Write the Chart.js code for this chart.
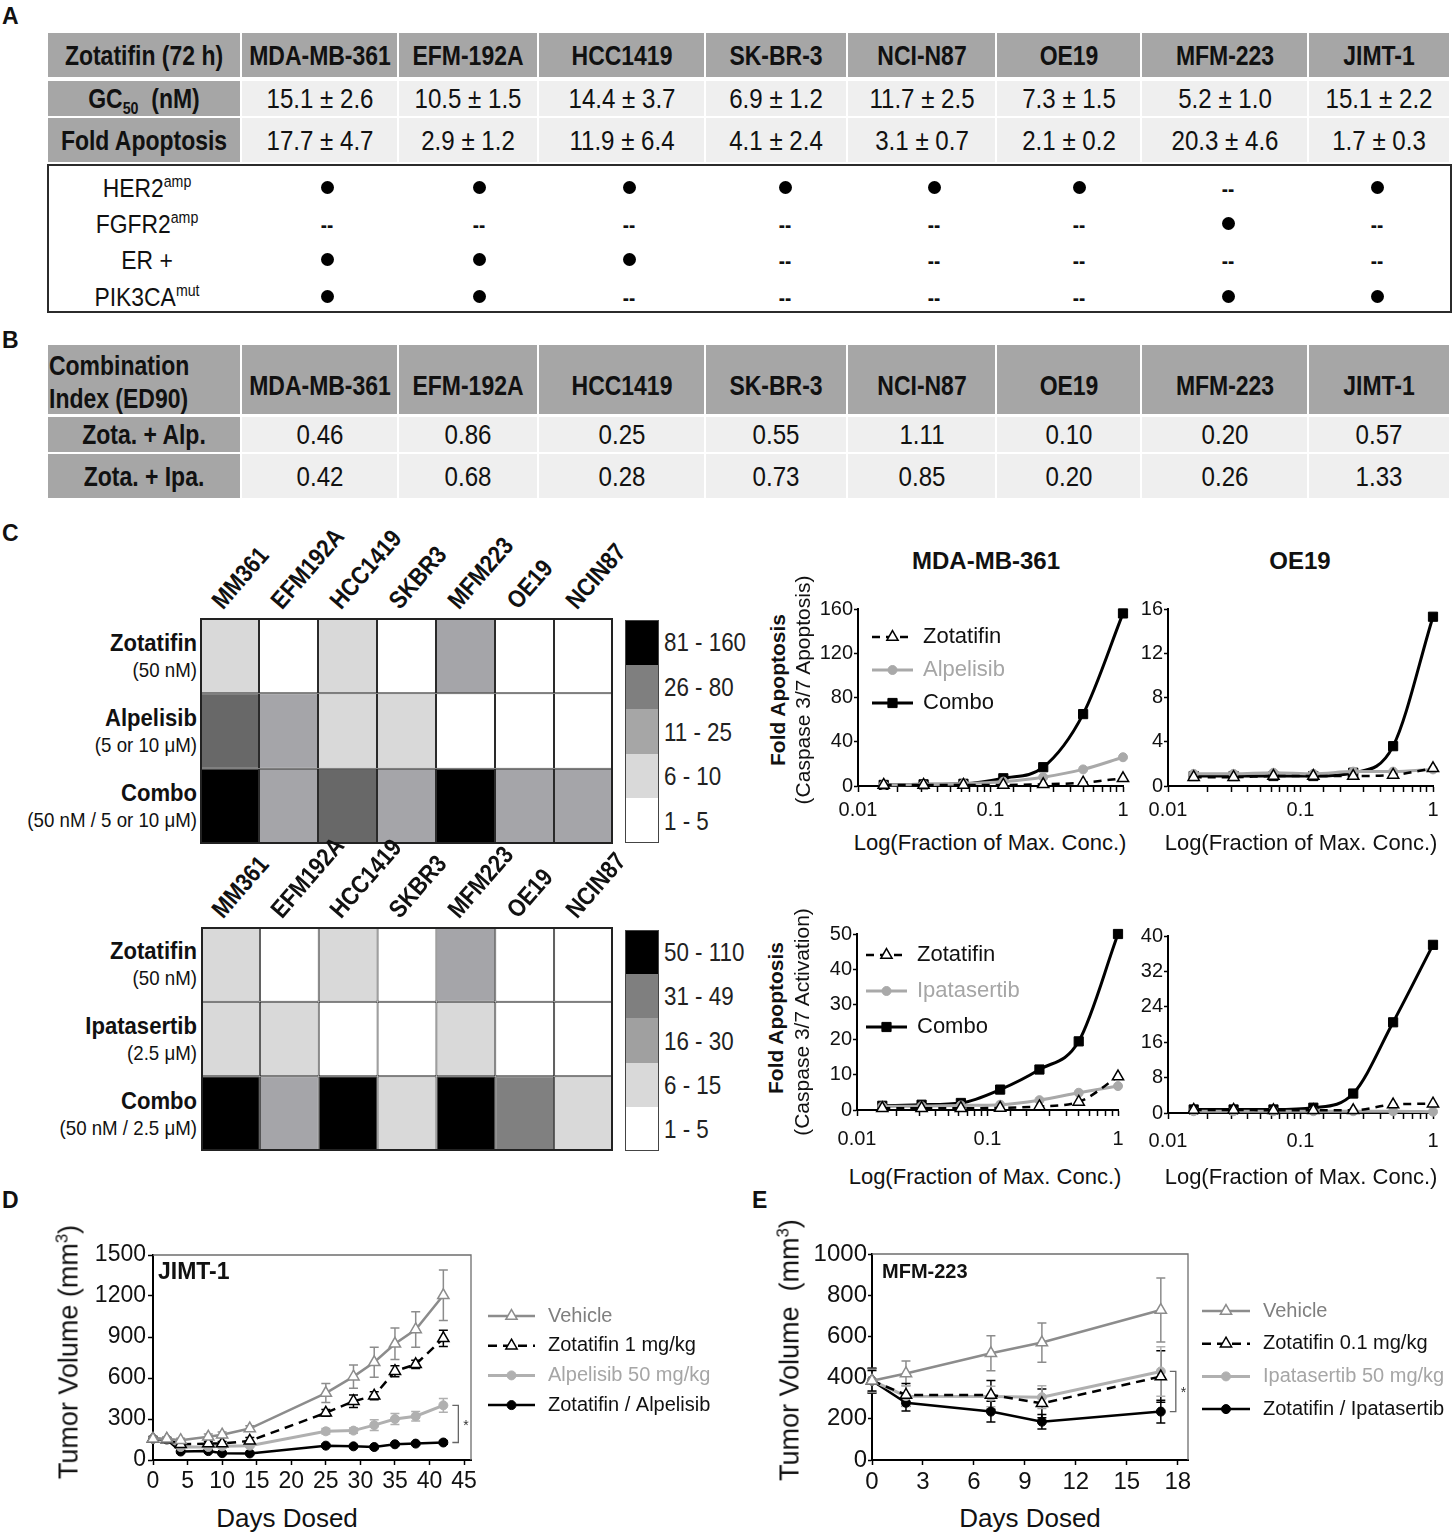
<!DOCTYPE html>
<html>
<head>
<meta charset="utf-8">
<title>Zotatifin combination figure</title>
<script src="https://cdn.jsdelivr.net/npm/chart.js@4.4.1/dist/chart.umd.min.js"></script>
<style>
html,body{margin:0;padding:0;background:#fff;}
#root{position:relative;width:1453px;height:1533px;overflow:hidden;background:#fff;font-family:"Liberation Sans",Arial,Helvetica,sans-serif;color:#111;}
.t{position:absolute;white-space:nowrap;line-height:1;}
.t sup{font-size:0.62em;vertical-align:baseline;position:relative;top:-0.62em;}
.t sub{font-size:0.62em;vertical-align:baseline;position:relative;top:0.32em;}
.c{position:absolute;box-sizing:border-box;}
canvas{position:absolute;}
</style>
</head>
<body>
<div id="root"></div>
<script>
// ================= DATA =================
// Panel A
const cellLines = ['MDA-MB-361','EFM-192A','HCC1419','SK-BR-3','NCI-N87','OE19','MFM-223','JIMT-1'];
const gc50Mean = [15.1,10.5,14.4,6.9,11.7,7.3,5.2,15.1];
const gc50Sd   = [2.6,1.5,3.7,1.2,2.5,1.5,1.0,2.2];
const foldMean = [17.7,2.9,11.9,4.1,3.1,2.1,20.3,1.7];
const foldSd   = [4.7,1.2,6.4,2.4,0.7,0.2,4.6,0.3];
const her2amp    = [1,1,1,1,1,1,0,1];
const fgfr2amp   = [0,0,0,0,0,0,1,0];
const erPositive = [1,1,1,0,0,0,0,0];
const pik3caMut  = [1,1,0,0,0,0,1,1];
// Panel B
const ciZotaAlp = [0.46,0.86,0.25,0.55,1.11,0.10,0.20,0.57];
const ciZotaIpa = [0.42,0.68,0.28,0.73,0.85,0.20,0.26,1.33];
// Panel C heatmaps (bin index per cell)
const heatLines = ['MM361','EFM192A','HCC1419','SKBR3','MFM223','OE19','NCIN87'];
const alpBins = ['1 - 5','6 - 10','11 - 25','26 - 80','81 - 160'];
const alpHeatZota  = [1,0,1,0,2,0,0];
const alpHeatAlp   = [3,2,1,1,0,0,0];
const alpHeatCombo = [4,2,3,2,4,2,2];
const ipaBins = ['1 - 5','6 - 15','16 - 30','31 - 49','50 - 110'];
const ipaHeatZota  = [1,0,1,0,2,0,0];
const ipaHeatIpa   = [1,1,0,0,1,0,0];
const ipaHeatCombo = [4,2,4,1,4,3,1];
// Panel C dose response
const doseFrac = [0.015625,0.03125,0.0625,0.125,0.25,0.5,1];
const mm361AlpZota  = [1,1,1,1,1.5,3,7];
const mm361Alp      = [1,1.3,2,4,8,15,26];
const mm361AlpCombo = [1,1.5,2,7,17,65,156];
const oe19AlpZota   = [0.8,0.8,0.9,0.9,0.9,1.0,1.6];
const oe19Alp       = [1.1,1.1,1.2,1.1,1.3,1.3,1.5];
const oe19AlpCombo  = [0.9,0.9,0.9,0.9,1.2,3.6,15.3];
const mm361IpaZota  = [0.5,0.5,0.5,0.6,1.0,2.3,9.5];
const mm361Ipa      = [1.0,1.1,1.3,1.5,2.8,4.9,6.8];
const mm361IpaCombo = [1.2,1.5,2.0,5.8,11.5,19.5,50];
const oe19IpaZota   = [0.7,0.7,0.6,0.6,0.6,1.9,2.1];
const oe19Ipa       = [0.4,0.4,0.4,0.4,0.4,0.4,0.3];
const oe19IpaCombo  = [0.8,0.8,0.8,1.2,4.4,20.5,38];
// Panel D (JIMT-1)
const jimtDays = [0,2,4,8,10,14,25,29,32,35,38,42];
const jimtVehicle    = [155,155,145,170,185,230,490,610,715,850,955,1205];
const jimtVehicleErr = [20,15,15,20,20,20,70,85,110,115,130,185];
const jimtZota       = [155,150,115,120,120,140,345,430,470,650,700,890];
const jimtZotaErr    = [15,10,15,15,15,25,25,45,30,40,30,60];
const jimtAlp        = [155,150,95,95,100,105,210,215,255,300,320,400];
const jimtAlpErr     = [15,10,10,10,10,10,20,20,40,40,35,50];
const jimtCombo      = [155,150,62,65,50,48,105,100,95,115,120,128];
const jimtComboErr   = [10,10,10,10,8,8,10,10,10,10,10,12];
const jimtDayTicks   = [0,5,10,15,20,25,30,35,40,45];
// Panel E (MFM-223)
const mfmDays = [0,2,7,10,17];
const mfmVehicle    = [385,420,518,570,728];
const mfmVehicleErr = [60,60,85,95,155];
const mfmZota       = [385,316,316,275,405];
const mfmZotaErr    = [60,55,70,70,125];
const mfmIpa        = [385,310,308,305,430];
const mfmIpaErr     = [55,50,50,55,120];
const mfmCombo      = [385,278,235,186,235];
const mfmComboErr   = [50,40,50,35,55];
const mfmDayTicks   = [0,3,6,9,12,15,18];

// ================= HELPERS =================
const root = document.getElementById('root');
const FONT = '"Liberation Sans", Arial, sans-serif';
function txt(html, x, y, o = {}) {
  const d = document.createElement('div');
  d.className = 't';
  d.innerHTML = html;
  const size = o.size || 20, sx = o.sx || 1, align = o.align || 'center';
  d.style.fontSize = size + 'px';
  d.style.fontWeight = o.weight || 'normal';
  d.style.color = o.color || '#111';
  d.style.left = x + 'px';
  d.style.top = y + 'px';
  const tx = align === 'center' ? '-50%' : align === 'right' ? '-100%' : '0';
  const ox = align === 'center' ? '50%' : align === 'right' ? '100%' : '0';
  d.style.transformOrigin = ox + ' 50%';
  d.style.transform = `translate(${tx},-50%) ${o.rot ? `rotate(${o.rot}deg)` : ''} scaleX(${sx})`;
  root.appendChild(d);
  return d;
}
function rect(x, y, w, h, bg, extra) {
  const d = document.createElement('div');
  d.className = 'c';
  Object.assign(d.style, {left: x + 'px', top: y + 'px', width: w + 'px', height: h + 'px', background: bg});
  if (extra) Object.assign(d.style, extra);
  root.appendChild(d);
  return d;
}
function rotLabel(text, x, y, size, rot, sx) {
  const d = document.createElement('div');
  d.className = 't';
  d.textContent = text;
  Object.assign(d.style, {left: x + 'px', top: (y - size) + 'px', fontSize: size + 'px', fontWeight: 'bold', height: size + 'px',
    transformOrigin: '0 100%', transform: `rotate(${rot}deg) scaleX(${sx})`});
  root.appendChild(d);
}
function mkCanvas(x, y, w, h) {
  const c = document.createElement('canvas');
  c.width = w; c.height = h;
  Object.assign(c.style, {left: x + 'px', top: y + 'px', width: w + 'px', height: h + 'px'});
  root.appendChild(c);
  return c;
}

// ================= PANEL LETTERS =================
[['A',2,16],['B',2,340],['C',2,533],['D',2,1200],['E',752,1200]].forEach(([l,x,y]) =>
  txt(l, x, y, {size: 23, weight: 'bold', align: 'left'}));

// ================= TABLE A =================
const colX = [48,242,399,539,706,848,997,1142,1309,1451];
const GRAY = '#a6a6a6', PALE = '#efefef';
const HB = {size: 28, weight: 'bold', sx: 0.82};
const VAL = {size: 28, sx: 0.86};
function rowCells(y, h, htmls, textY, firstStyle, restStyle, firstBg, restBg) {
  for (let i = 0; i < htmls.length; i++) {
    const x0 = colX[i], x1 = colX[i + 1] - 2;
    rect(x0, y, x1 - x0, h, i === 0 ? firstBg : restBg);
    if (htmls[i] != null) txt(htmls[i], (x0 + x1) / 2, textY, i === 0 ? firstStyle : restStyle);
  }
}
const pm = (m, s, d) => `${m.toFixed(d)} ± ${s.toFixed(d)}`;
rowCells(33, 44, ['Zotatifin (72 h)', ...cellLines], 56, HB, HB, GRAY, GRAY);
rowCells(81, 35, ['GC<sub>50</sub>&nbsp; (nM)', ...gc50Mean.map((m, i) => pm(m, gc50Sd[i], 1))], 99, HB, VAL, GRAY, PALE);
rowCells(118, 44, ['Fold Apoptosis', ...foldMean.map((m, i) => pm(m, foldSd[i], 1))], 141, HB, VAL, GRAY, PALE);
rect(47, 164, 1405, 149, 'transparent', {border: '2px solid #2b2b2b'});
const featureRows = [
  {html: 'HER2<sup>amp</sup>', v: her2amp},
  {html: 'FGFR2<sup>amp</sup>', v: fgfr2amp},
  {html: 'ER +', v: erPositive},
  {html: 'PIK3CA<sup>mut</sup>', v: pik3caMut}
];
const featY = [188,224,260,297];
const dotX = [327,479,629,785,934,1079,1228,1377];
featureRows.forEach((f, r) => {
  txt(f.html, 147, featY[r], {size: 26, sx: 0.88});
  f.v.forEach((on, i) => {
    if (on) rect(dotX[i] - 6.5, featY[r] - 7, 13, 13, '#000', {borderRadius: '50%'});
    else txt('--', dotX[i], featY[r] + 1, {size: 22, weight: 'bold', sx: 0.85});
  });
});

// ================= TABLE B =================
for (let i = 0; i < 9; i++) rect(colX[i], 345, colX[i + 1] - 2 - colX[i], 69, GRAY);
txt('Combination', 49, 366, {...HB, align: 'left'});
txt('Index (ED90)', 49, 399, {...HB, align: 'left'});
cellLines.forEach((c, i) => txt(c, (colX[i + 1] + colX[i + 2] - 2) / 2, 386, HB));
rowCells(417, 35, ['Zota. + Alp.', ...ciZotaAlp.map(v => v.toFixed(2))], 435, HB, VAL, GRAY, PALE);
rowCells(454, 44, ['Zota. + Ipa.', ...ciZotaIpa.map(v => v.toFixed(2))], 477, HB, VAL, GRAY, PALE);

// ================= HEATMAPS =================
const outlinePlugin = {
  id: 'outline',
  afterDraw(chart) {
    const {left, right, top, bottom} = chart.chartArea, ctx = chart.ctx;
    ctx.save(); ctx.strokeStyle = '#222'; ctx.lineWidth = 2;
    ctx.strokeRect(left + 1, top + 1, right - left - 2, bottom - top - 2);
    ctx.restore();
  }
};
function heatmap(r, labels, rows, colors) {
  const c = mkCanvas(r.x, r.y, r.w, r.h);
  const n = rows.length;
  new Chart(c, {
    type: 'bar',
    data: {
      labels,
      datasets: rows.map((bins, ri) => ({
        data: bins.map(() => [n - 1 - ri, n - ri]),
        backgroundColor: bins.map(b => colors[b]),
        borderColor: '#2a2a2a', borderWidth: 1, borderSkipped: false,
        barPercentage: 1, categoryPercentage: 1, grouped: false, inflateAmount: 0
      }))
    },
    options: {
      responsive: false, animation: false, devicePixelRatio: 1, events: [],
      layout: {padding: 0},
      plugins: {legend: {display: false}, tooltip: {enabled: false}},
      scales: {x: {display: false}, y: {display: false, min: 0, max: n}}
    },
    plugins: [outlinePlugin]
  });
}
function heatLegend(x, y, w, h, bins, colors) {
  const seg = h / bins.length;
  for (let k = 0; k < bins.length; k++) {
    const b = bins.length - 1 - k;
    rect(x, y + k * seg, w, seg + 0.5, colors[b]);
    txt(bins[b], x + w + 5, y + (k + 0.5) * seg, {size: 26, sx: 0.86, align: 'left', color: '#222'});
  }
  rect(x, y, w, h, 'transparent', {border: '1.5px solid #444'});
}
function heatRowLabels(top, rowH, names, subs) {
  names.forEach((nm, i) => {
    const cy = top + (i + 0.5) * rowH;
    txt(nm, 197, cy - 13, {size: 24, weight: 'bold', sx: 0.92, align: 'right'});
    txt(subs[i], 197, cy + 13, {size: 21, sx: 0.89, align: 'right'});
  });
}
function heatColLabels(left, width, top, labels) {
  const cw = width / labels.length;
  labels.forEach((l, i) => rotLabel(l, left + (i + 0.5) * cw - 4, top - 5, 25, -49, 0.86));
}
const heatColors1 = ['#ffffff','#d9d9d9','#a5a5a9','#686868','#000000'];
const legColors1  = ['#ffffff','#d9d9d9','#a6a6a6','#7f7f7f','#000000'];
const heatColors2 = ['#ffffff','#d9d9d9','#a5a5a9','#808080','#000000'];
const legColors2  = ['#ffffff','#d9d9d9','#a0a0a0','#7f7f7f','#000000'];

heatmap({x: 200, y: 618, w: 413, h: 226}, heatLines, [alpHeatZota, alpHeatAlp, alpHeatCombo], heatColors1);
heatColLabels(200, 413, 618, heatLines);
heatRowLabels(618, 75, ['Zotatifin','Alpelisib','Combo'], ['(50 nM)','(5 or 10 μM)','(50 nM / 5 or 10 μM)']);
heatLegend(625, 620, 34, 223, alpBins, legColors1);

heatmap({x: 201, y: 927, w: 412, h: 224}, heatLines, [ipaHeatZota, ipaHeatIpa, ipaHeatCombo], heatColors2);
heatColLabels(201, 412, 927, heatLines);
heatRowLabels(927, 74.7, ['Zotatifin','Ipatasertib','Combo'], ['(50 nM)','(2.5 μM)','(50 nM / 2.5 μM)']);
heatLegend(625, 930, 34, 221, ipaBins, legColors2);

// ================= LINE CHART PLUGINS =================
function drawMarker(ctx, style, r, x, y, fill, stroke, bw) {
  ctx.save(); ctx.setLineDash([]);
  ctx.fillStyle = fill; ctx.strokeStyle = stroke; ctx.lineWidth = bw || 1;
  ctx.beginPath();
  if (style === 'circle') ctx.arc(x, y, r, 0, Math.PI * 2);
  else if (style === 'rect') { const s = r * Math.SQRT1_2; ctx.rect(x - s, y - s, 2 * s, 2 * s); }
  else if (style === 'triangle') {
    let a = 0;
    ctx.moveTo(x + Math.sin(a) * r, y - Math.cos(a) * r); a += 2 * Math.PI / 3;
    ctx.lineTo(x + Math.sin(a) * r, y - Math.cos(a) * r); a += 2 * Math.PI / 3;
    ctx.lineTo(x + Math.sin(a) * r, y - Math.cos(a) * r); ctx.closePath();
  }
  ctx.fill(); ctx.stroke(); ctx.restore();
}
const legendPlugin = {
  id: 'lg',
  afterDraw(chart, args, o) {
    if (!o || o.x === undefined || o.hide) return;
    const ctx = chart.ctx;
    chart.data.datasets.forEach((ds, i) => {
      const y = o.y + i * o.dy;
      ctx.save();
      ctx.strokeStyle = ds.borderColor; ctx.lineWidth = ds.borderWidth;
      ctx.setLineDash(ds.borderDash || []);
      ctx.beginPath(); ctx.moveTo(o.x, y); ctx.lineTo(o.x + o.len, y); ctx.stroke();
      ctx.restore();
      drawMarker(ctx, ds.pointStyle, ds.pointRadius, o.x + o.len / 2, y, ds.pointBackgroundColor, ds.pointBorderColor, ds.pointBorderWidth);
      ctx.save();
      ctx.font = o.font; ctx.fillStyle = o.colors[i]; ctx.textBaseline = 'middle'; ctx.textAlign = 'left';
      ctx.fillText(ds.label, o.tx, y);
      ctx.restore();
    });
  }
};
const errPlugin = {
  id: 'eb',
  beforeDatasetsDraw(chart, args, o) {
    if (!o || !o.errors) return;
    const ctx = chart.ctx, xs = chart.scales.x, ys = chart.scales.y;
    chart.data.datasets.forEach((ds, i) => {
      const e = o.errors[i]; if (!e) return;
      ctx.save(); ctx.strokeStyle = ds.borderColor; ctx.lineWidth = 1.5; ctx.setLineDash([]);
      ds.data.forEach((p, j) => {
        const x = xs.getPixelForValue(p.x);
        const yt = ys.getPixelForValue(p.y + e[j]);
        const yb = ys.getPixelForValue(Math.max(0, p.y - e[j]));
        ctx.beginPath();
        ctx.moveTo(x, yt); ctx.lineTo(x, yb);
        ctx.moveTo(x - 4.5, yt); ctx.lineTo(x + 4.5, yt);
        ctx.moveTo(x - 4.5, yb); ctx.lineTo(x + 4.5, yb);
        ctx.stroke();
      });
      ctx.restore();
    });
  }
};
const framePlugin = {
  id: 'fr',
  afterDraw(chart, args, o) {
    if (!o || !o.on) return;
    const {left, right, top, bottom} = chart.chartArea, ctx = chart.ctx;
    ctx.save(); ctx.strokeStyle = '#6e6e6e'; ctx.lineWidth = 1.3;
    ctx.beginPath(); ctx.moveTo(left, top); ctx.lineTo(right, top); ctx.lineTo(right, bottom); ctx.stroke();
    ctx.restore();
    if (o.bracket) {
      const b = o.bracket, xs = chart.scales.x, ys = chart.scales.y;
      const x = xs.getPixelForValue(b.x) + b.dx;
      const y1 = ys.getPixelForValue(b.y1), y2 = ys.getPixelForValue(b.y2);
      ctx.save(); ctx.strokeStyle = '#666'; ctx.lineWidth = 1.3;
      ctx.beginPath(); ctx.moveTo(x - 6, y1); ctx.lineTo(x, y1); ctx.lineTo(x, y2); ctx.lineTo(x - 6, y2); ctx.stroke();
      ctx.fillStyle = '#333'; ctx.font = '14px ' + FONT; ctx.textAlign = 'left'; ctx.textBaseline = 'middle';
      ctx.fillText('*', x + 5, (y1 + y2) / 2 + 2);
      ctx.restore();
    }
  }
};

const ST = {
  zota:   {borderColor: '#000', borderWidth: 2.5, borderDash: [8, 6], pointStyle: 'triangle', pointRadius: 6.5, pointBackgroundColor: '#fff', pointBorderColor: '#000', pointBorderWidth: 1.5},
  drug:   {borderColor: '#a9a9a9', borderWidth: 3, borderDash: [], pointStyle: 'circle', pointRadius: 4.5, pointBackgroundColor: '#a9a9a9', pointBorderColor: '#a9a9a9', pointBorderWidth: 1},
  combo:  {borderColor: '#000', borderWidth: 3, borderDash: [], pointStyle: 'rect', pointRadius: 6.5, pointBackgroundColor: '#000', pointBorderColor: '#000', pointBorderWidth: 1},
  veh:    {borderColor: '#8c8c8c', borderWidth: 2.5, borderDash: [], pointStyle: 'triangle', pointRadius: 6.5, pointBackgroundColor: '#fff', pointBorderColor: '#8c8c8c', pointBorderWidth: 1.5},
  zotaV:  {borderColor: '#000', borderWidth: 2.5, borderDash: [9, 6], pointStyle: 'triangle', pointRadius: 6.5, pointBackgroundColor: '#fff', pointBorderColor: '#000', pointBorderWidth: 1.5},
  drugV:  {borderColor: '#b0b0b0', borderWidth: 3, borderDash: [], pointStyle: 'circle', pointRadius: 4.5, pointBackgroundColor: '#b0b0b0', pointBorderColor: '#b0b0b0', pointBorderWidth: 1},
  comboV: {borderColor: '#000', borderWidth: 2.5, borderDash: [], pointStyle: 'circle', pointRadius: 4.5, pointBackgroundColor: '#000', pointBorderColor: '#000', pointBorderWidth: 1}
};

function axisCommon(size, tickLen, pad) {
  return {
    border: {display: true, color: '#000', width: 2},
    grid: {display: true, drawOnChartArea: false, drawTicks: true, tickLength: tickLen, tickColor: '#000', tickWidth: 1.5},
    ticks: {color: '#111', font: {family: FONT, size}, padding: pad, autoSkip: false, maxRotation: 0}
  };
}
function lineChart(r, area, xScale, yScale, sets, extra) {
  const c = mkCanvas(r.x, r.y, r.w, r.h);
  const yW = area.l - r.x, xH = r.y + r.h - area.b;
  xScale.afterFit = s => { s.height = xH; };
  yScale.afterFit = s => { s.width = yW; };
  const lg = extra.legend || {hide: true};
  return new Chart(c, {
    type: 'line',
    data: {datasets: sets.map(s => Object.assign({label: s.label, data: s.xs.map((x, i) => ({x, y: s.ys[i]})), clip: false, fill: false,
      cubicInterpolationMode: extra.smooth ? 'monotone' : 'default', tension: 0}, s.style))},
    options: {
      responsive: false, animation: false, devicePixelRatio: 1, events: [],
      layout: {padding: {left: 0, top: area.t - r.y, right: r.x + r.w - area.r, bottom: 0}},
      plugins: {
        legend: {display: false}, tooltip: {enabled: false},
        lg: lg.hide ? {hide: true} : {x: lg.x - r.x, y: lg.y - r.y, dy: lg.dy, len: lg.len, tx: lg.tx - r.x, font: lg.font, colors: lg.colors},
        eb: {errors: extra.errors || null},
        fr: {on: !!extra.frame, bracket: extra.bracket || null}
      },
      scales: {x: xScale, y: yScale}
    },
    plugins: [errPlugin, legendPlugin, framePlugin]
  });
}

// ================= PANEL C: DOSE RESPONSE =================
function logX(pad) {
  const a = axisCommon(20, 6, pad);
  return Object.assign(a, {type: 'logarithmic', position: 'bottom', min: 0.01, max: 1,
    ticks: Object.assign(a.ticks, {callback: v => { const l = Math.log10(v); return Math.abs(l - Math.round(l)) < 1e-6 ? (v < 0.05 ? '0.01' : v < 0.5 ? '0.1' : '1') : ''; }})});
}
function linY(max, step, size, tl, pad) {
  const a = axisCommon(size, tl, pad);
  return Object.assign(a, {type: 'linear', position: 'left', min: 0, max,
    ticks: Object.assign(a.ticks, {stepSize: step, callback: v => String(v)})});
}
const legC = (x, y, dy, tx, c2) => ({x, y, dy, len: 41, tx, font: '22px ' + FONT, colors: ['#111', c2, '#111']});

lineChart({x: 800, y: 590, w: 340, h: 240}, {l: 858, t: 609, r: 1123, b: 786}, logX(6), linY(160, 40, 20, 4, 1), [
  {label: 'Zotatifin', xs: doseFrac, ys: mm361AlpZota, style: ST.zota},
  {label: 'Alpelisib', xs: doseFrac, ys: mm361Alp, style: ST.drug},
  {label: 'Combo', xs: doseFrac, ys: mm361AlpCombo, style: ST.combo}
], {smooth: true, legend: legC(872, 637, 33, 923, '#a6a6a6')});

lineChart({x: 1110, y: 590, w: 343, h: 240}, {l: 1168, t: 609, r: 1433, b: 786}, logX(6), linY(16, 4, 20, 4, 1), [
  {label: 'Zotatifin', xs: doseFrac, ys: oe19AlpZota, style: ST.zota},
  {label: 'Alpelisib', xs: doseFrac, ys: oe19Alp, style: ST.drug},
  {label: 'Combo', xs: doseFrac, ys: oe19AlpCombo, style: ST.combo}
], {smooth: true});

lineChart({x: 800, y: 915, w: 340, h: 240}, {l: 857, t: 934, r: 1118, b: 1110}, logX(11), linY(50, 10, 20, 4, 1), [
  {label: 'Zotatifin', xs: doseFrac, ys: mm361IpaZota, style: ST.zota},
  {label: 'Ipatasertib', xs: doseFrac, ys: mm361Ipa, style: ST.drug},
  {label: 'Combo', xs: doseFrac, ys: mm361IpaCombo, style: ST.combo}
], {smooth: true, legend: legC(866, 955, 36, 917, '#a6a6a6')});

lineChart({x: 1110, y: 915, w: 343, h: 240}, {l: 1168, t: 936, r: 1433, b: 1113}, logX(10), linY(40, 8, 20, 4, 1), [
  {label: 'Zotatifin', xs: doseFrac, ys: oe19IpaZota, style: ST.zota},
  {label: 'Ipatasertib', xs: doseFrac, ys: oe19Ipa, style: ST.drug},
  {label: 'Combo', xs: doseFrac, ys: oe19IpaCombo, style: ST.combo}
], {smooth: true});

txt('MDA-MB-361', 986, 561, {size: 24, weight: 'bold'});
txt('OE19', 1300, 561, {size: 24, weight: 'bold'});
txt('Fold Apoptosis', 777, 690, {size: 21, weight: 'bold', rot: -90});
txt('(Caspase 3/7 Apoptosis)', 802, 690, {size: 21, rot: -90});
txt('Fold Apoptosis', 775, 1018, {size: 21, weight: 'bold', rot: -90});
txt('(Caspase 3/7 Activation)', 801, 1022, {size: 21, rot: -90});
txt('Log(Fraction of Max. Conc.)', 990, 843, {size: 22});
txt('Log(Fraction of Max. Conc.)', 1301, 843, {size: 22});
txt('Log(Fraction of Max. Conc.)', 985, 1177, {size: 22});
txt('Log(Fraction of Max. Conc.)', 1301, 1177, {size: 22});

// ================= PANEL D & E: IN VIVO =================
function daysX(max, tickVals, size, pad) {
  const a = axisCommon(size, 5, pad);
  return Object.assign(a, {type: 'linear', position: 'bottom', min: 0, max,
    ticks: Object.assign(a.ticks, {callback: v => String(v)}),
    afterBuildTicks: s => { s.ticks = tickVals.map(v => ({value: v})); }});
}
const lastOf = a => a[a.length - 1];

lineChart({x: 75, y: 1235, w: 665, h: 265}, {l: 153, t: 1255, r: 471, b: 1460}, daysX(46, jimtDayTicks, 23, 3), linY(1500, 300, 23, 5, 2), [
  {label: 'Vehicle', xs: jimtDays, ys: jimtVehicle, style: ST.veh},
  {label: 'Zotatifin 1 mg/kg', xs: jimtDays, ys: jimtZota, style: ST.zotaV},
  {label: 'Alpelisib 50 mg/kg', xs: jimtDays, ys: jimtAlp, style: ST.drugV},
  {label: 'Zotatifin / Alpelisib', xs: jimtDays, ys: jimtCombo, style: ST.comboV}
], {
  errors: [jimtVehicleErr, jimtZotaErr, jimtAlpErr, jimtComboErr], frame: true,
  bracket: {x: lastOf(jimtDays), dx: 15, y1: lastOf(jimtAlp), y2: lastOf(jimtCombo)},
  legend: {x: 488, y: 1316, dy: 29.7, len: 47, tx: 548, font: '20px ' + FONT, colors: ['#7f7f7f', '#111', '#a6a6a6', '#111']}
});
txt('JIMT-1', 158, 1271, {size: 23, weight: 'bold', align: 'left'});
txt('Tumor Volume (mm<sup>3</sup>)', 69, 1352, {size: 27, rot: -90});
txt('Days Dosed', 287, 1518, {size: 26});

lineChart({x: 795, y: 1235, w: 658, h: 265}, {l: 872, t: 1254, r: 1188, b: 1460}, daysX(18.6, mfmDayTicks, 24, 3), linY(1000, 200, 24, 4, 1), [
  {label: 'Vehicle', xs: mfmDays, ys: mfmVehicle, style: ST.veh},
  {label: 'Zotatifin 0.1 mg/kg', xs: mfmDays, ys: mfmZota, style: ST.zotaV},
  {label: 'Ipatasertib 50 mg/kg', xs: mfmDays, ys: mfmIpa, style: ST.drugV},
  {label: 'Zotatifin / Ipatasertib', xs: mfmDays, ys: mfmCombo, style: ST.comboV}
], {
  errors: [mfmVehicleErr, mfmZotaErr, mfmIpaErr, mfmComboErr], frame: true,
  bracket: {x: lastOf(mfmDays), dx: 15, y1: lastOf(mfmIpa), y2: lastOf(mfmCombo)},
  legend: {x: 1202, y: 1311, dy: 32.7, len: 48, tx: 1263, font: '20px ' + FONT, colors: ['#7f7f7f', '#111', '#a6a6a6', '#111']}
});
txt('MFM-223', 882, 1271, {size: 20, weight: 'bold', align: 'left'});
txt('Tumor Volume&nbsp; (mm<sup>3</sup>)', 790, 1350, {size: 27, rot: -90});
txt('Days Dosed', 1030, 1518, {size: 26});
</script>
</body>
</html>
